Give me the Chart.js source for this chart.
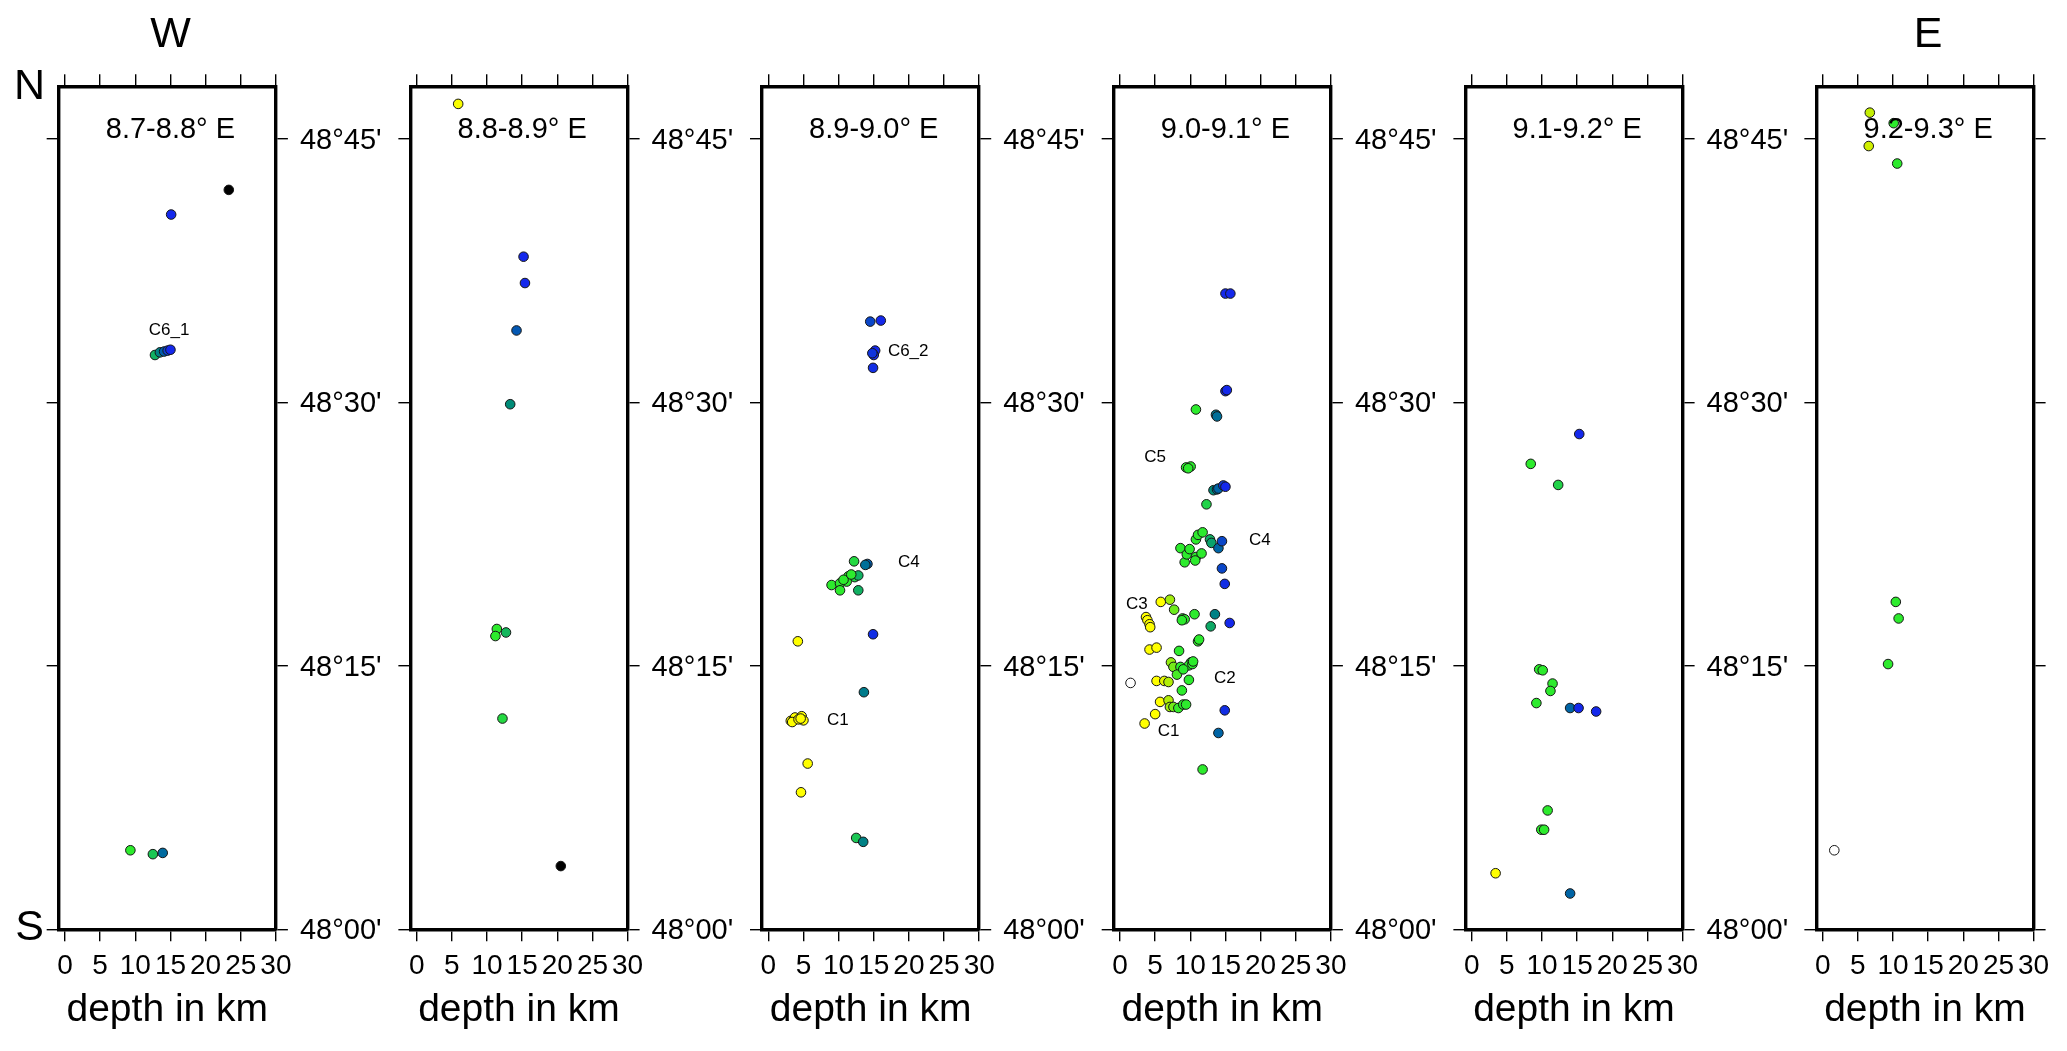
<!DOCTYPE html>
<html><head><meta charset="utf-8">
<script src="https://cdn.jsdelivr.net/npm/chart.js@4/dist/chart.umd.min.js"></script>
<style>
html,body{margin:0;padding:0;background:#fff;}
#wrap{position:relative;width:2067px;height:1051px;overflow:hidden;background:#fff;}
#wrap canvas{position:absolute;left:0;top:0;}
</style></head><body><div id="wrap"></div>
<script>
// ---------------- DATA ----------------
const panelTitles = ["8.7-8.8° E", "8.8-8.9° E", "8.9-9.0° E", "9.0-9.1° E", "9.1-9.2° E", "9.2-9.3° E"];

const xTicks = [0, 5, 10, 15, 20, 25, 30];
const yTicks = [48.0, 48.25, 48.5, 48.75];
const yTickLabels = ["48°00'", "48°15'", "48°30'", "48°45'"];

// depth (km) and latitude (deg N) of each event, per longitude slice
const depth1 = [23.3, 15.1, 12.8, 13.5, 14.1, 14.6, 15.0, 9.3, 12.5, 13.9];
const lat1   = [48.7017, 48.6783, 48.5450, 48.5475, 48.5483, 48.5492, 48.5500, 48.0750, 48.0713, 48.0725];

const depth2 = [5.9, 15.2, 15.4, 14.2, 13.3, 11.4, 11.2, 12.7, 12.2, 20.5];
const lat2   = [48.7833, 48.6383, 48.6133, 48.5683, 48.4983, 48.2850, 48.2783, 48.2817, 48.2000, 48.0600];

const depth3 = [14.5, 16.0, 15.2, 15.0, 14.8, 14.9, 12.2, 14.1, 13.8, 9.0, 10.2, 10.2, 11.4, 12.3, 12.8, 12.8, 11.15, 10.7, 11.8,
                4.2, 14.9, 13.6, 3.2, 3.6, 3.8, 4.75, 5.0, 3.4, 4.3, 4.6, 5.6, 4.65, 12.5, 13.5];
const lat3   = [48.5767, 48.5777, 48.5492, 48.5450, 48.5467, 48.5328, 48.3492, 48.3467, 48.3458, 48.3267, 48.3283, 48.3217, 48.3350,
                48.3342, 48.3358, 48.3217, 48.3300, 48.3317, 48.3367, 48.2733, 48.2800, 48.2250, 48.1978, 48.1983, 48.2010,
                48.2022, 48.1983, 48.1967, 48.1992, 48.2000, 48.1573, 48.1300, 48.0867, 48.0830];

const depth4 = [15.0, 15.7, 15.0, 15.2, 10.8, 13.65, 13.8, 9.4, 10.05, 9.7, 13.3, 13.8, 14.0, 14.7, 15.0, 12.3,
                8.6, 9.2, 9.5, 9.9, 10.8, 11.6, 10.8, 11.1, 11.75, 12.8, 13.0, 14.0, 14.5, 10.7, 14.5, 14.9,
                5.8, 7.1, 7.7, 8.9, 9.2, 8.8, 10.6, 13.5, 12.9, 15.6, 3.7, 3.9, 4.2, 4.3, 4.2, 5.2, 11.1, 11.25, 8.4,
                10.1, 9.8, 10.3, 10.4, 7.25, 7.6, 8.6, 8.1, 9.0, 9.8, 5.2, 6.3, 6.9, 1.5, 8.8,
                5.7, 6.9, 7.1, 7.6, 8.3, 9.0, 9.4, 14.9, 5.0, 3.5, 14.0, 11.75];
const lat4   = [48.6033, 48.6033, 48.5107, 48.5117, 48.4933, 48.4883, 48.4867, 48.4383, 48.4392, 48.4375, 48.4167, 48.4175,
                48.4183, 48.4212, 48.4200, 48.4033,
                48.3617, 48.3483, 48.3558, 48.3608, 48.3533, 48.3567, 48.3700, 48.3743, 48.3767, 48.3700, 48.3667, 48.3617,
                48.3683, 48.3500, 48.3425, 48.3278,
                48.3107, 48.3128, 48.3033, 48.2950, 48.2942, 48.2933, 48.2990, 48.2990, 48.2875, 48.2907, 48.2963, 48.2933,
                48.2895, 48.2867, 48.2655, 48.2673, 48.2733, 48.2750, 48.2642,
                48.2533, 48.2505, 48.2517, 48.2542, 48.2533, 48.2490, 48.2490, 48.2417, 48.2467, 48.2367, 48.2357, 48.2357,
                48.2347, 48.2338, 48.2267,
                48.2158, 48.2173, 48.2110, 48.2110, 48.2100, 48.2133, 48.2133, 48.2078, 48.2042, 48.1953, 48.1863, 48.1517];

const depth5 = [15.3, 8.4, 12.3, 9.6, 10.1, 11.5, 11.2, 9.2, 14.0, 15.2, 17.7, 10.8, 9.9, 10.3, 3.4, 14.0];
const lat5   = [48.4700, 48.4417, 48.4217, 48.2467, 48.2458, 48.2332, 48.2262, 48.2147, 48.2100, 48.2100, 48.2067,
                48.1128, 48.0945, 48.0945, 48.0532, 48.0340];

const depth6 = [6.7, 10.1, 6.55, 10.6, 10.4, 10.8, 9.3, 1.65];
const lat6   = [48.7750, 48.7650, 48.7433, 48.7267, 48.3107, 48.2950, 48.2517, 48.0750];

// cluster annotations (depth km, latitude deg)
const clusterLabels1 = [{text: "C6_1", depth: 14.8, lat: 48.5683}];
const clusterLabels2 = [];
const clusterLabels3 = [{text: "C6_2", depth: 19.9, lat: 48.5483}, {text: "C4", depth: 20.0, lat: 48.3483},
                        {text: "C1", depth: 9.9, lat: 48.1983}];
const clusterLabels4 = [{text: "C5", depth: 5.0, lat: 48.4483}, {text: "C4", depth: 19.9, lat: 48.3692},
                        {text: "C3", depth: 2.4, lat: 48.3083}, {text: "C2", depth: 14.9, lat: 48.2383},
                        {text: "C1", depth: 6.9, lat: 48.1883}];
const clusterLabels5 = [];
const clusterLabels6 = [];

// ---------------- STYLE / LAYOUT ----------------
const FONT = "'Liberation Sans', Arial, Helvetica, sans-serif";
const W = 2067, H = 1051;
const ZERO = [65, 416.7, 768.3, 1120, 1471.7, 1822.7];   // pixel of depth 0 in each panel
const PXKM = 7.03;
const XMIN = -0.9, XMAX = 30, YMIN = 48.0, YMAX = 48.8;
const AREA_TOP = 86.3, AREA_BOTTOM = 929.3;
const LEFT_W = 16, TOP_H = 16, BOTTOM_H = 104.6;

// depth colour palette (cpt-like)
const cptDepth = [5.8, 6.6, 8.4, 11.9, 12.4, 13.3, 14.0, 15.0];
const cptRGB = [[255,255,0],[205,238,0],[45,235,45],[45,235,45],[30,205,80],[0,140,120],[0,100,165],[20,40,235]];
function depthColor(d) {
  if (d < 2) return '#ffffff';
  if (d >= 20) return '#000000';
  if (d <= cptDepth[0]) return 'rgb(255,255,0)';
  for (let i = 1; i < cptDepth.length; i++) {
    if (d <= cptDepth[i]) {
      const t = (d - cptDepth[i-1]) / (cptDepth[i] - cptDepth[i-1]);
      const a = cptRGB[i-1], b = cptRGB[i];
      return 'rgb(' + a.map((v, k) => Math.round(v + (b[k] - v) * t)).join(',') + ')';
    }
  }
  const c = cptRGB[cptRGB.length - 1];
  return 'rgb(' + c.join(',') + ')';
}

const depths = [depth1, depth2, depth3, depth4, depth5, depth6];
const lats = [lat1, lat2, lat3, lat4, lat5, lat6];
const clusterLabels = [clusterLabels1, clusterLabels2, clusterLabels3, clusterLabels4, clusterLabels5, clusterLabels6];

const annotPlugin = {
  id: 'annot',
  afterDatasetsDraw(chart, args, o) {
    const ctx = chart.ctx, xs = chart.scales.x, ys = chart.scales.y, ca = chart.chartArea;
    ctx.save();
    ctx.fillStyle = '#000';
    ctx.textAlign = 'center';
    ctx.textBaseline = 'middle';
    ctx.font = '29px ' + FONT;
    ctx.fillText(o.title, xs.getPixelForValue(15), ys.getPixelForValue(48.7584));
    ctx.font = '17px ' + FONT;
    for (const l of o.labels) ctx.fillText(l.text, xs.getPixelForValue(l.depth), ys.getPixelForValue(l.lat));
    ctx.font = '43px ' + FONT;
    for (const c of o.compass) {
      if (c.where === 'above') ctx.fillText(c.text, xs.getPixelForValue(15), ca.top - 51.6);
      else if (c.where === 'topLeft') ctx.fillText(c.text, ca.left - 29.1, ca.top + 0.5);
      else if (c.where === 'bottomLeft') ctx.fillText(c.text, ca.left - 29.1, ca.bottom - 0.8);
    }
    ctx.restore();
  }
};

Chart.defaults.font.family = FONT;
Chart.defaults.color = '#000';

const wrap = document.getElementById('wrap');
const gridOpts = {drawOnChartArea: false, drawTicks: true, tickLength: 12, lineWidth: 1.4, color: '#000'};
const borderOpts = {display: true, width: 3.4, color: '#000'};
const setXTicks = s => { s.ticks = xTicks.map(v => ({value: v})); };
const setYTicks = s => { s.ticks = yTicks.map(v => ({value: v})); };

for (let k = 0; k < 6; k++) {
  const cv = document.createElement('canvas');
  cv.width = W; cv.height = H;
  cv.style.width = W + 'px'; cv.style.height = H + 'px';
  wrap.appendChild(cv);
  const showYLabels = k < 5;
  const RIGHT_W = showYLabels ? 130 : 20;
  const chartLeft = ZERO[k] + XMIN * PXKM;
  const chartRight = ZERO[k] + XMAX * PXKM;
  const compass = [];
  if (k === 0) compass.push({text: 'W', where: 'above'}, {text: 'N', where: 'topLeft'}, {text: 'S', where: 'bottomLeft'});
  if (k === 5) compass.push({text: 'E', where: 'above'});
  const dep = depths[k], lat = lats[k];
  new Chart(cv, {
    type: 'scatter',
    data: {
      datasets: [{
        xAxisID: 'x', yAxisID: 'y',
        data: dep.map((d, i) => ({x: d, y: lat[i]})),
        pointBackgroundColor: dep.map(depthColor),
        pointBorderColor: '#151515',
        pointBorderWidth: 1,
        pointRadius: 4.8,
        pointHoverRadius: 4.8,
        showLine: false
      }]
    },
    options: {
      responsive: false,
      animation: false,
      events: [],
      layout: {
        autoPadding: false,
        padding: {
          left: chartLeft - LEFT_W,
          right: W - chartRight - RIGHT_W,
          top: AREA_TOP - TOP_H,
          bottom: H - AREA_BOTTOM - BOTTOM_H
        }
      },
      plugins: {
        legend: {display: false},
        tooltip: {enabled: false},
        annot: {title: panelTitles[k], labels: clusterLabels[k], compass: compass}
      },
      scales: {
        x: {
          type: 'linear', position: 'bottom', min: XMIN, max: XMAX,
          afterBuildTicks: setXTicks,
          afterFit: s => { s.height = BOTTOM_H; },
          ticks: {autoSkip: false, maxRotation: 0, minRotation: 0, padding: 8.5, color: '#000',
                  font: {family: FONT, size: 28}, callback: v => String(v)},
          grid: gridOpts, border: borderOpts,
          title: {display: true, text: 'depth in km', color: '#000',
                  font: {family: FONT, size: 39, lineHeight: 1.2}, padding: {top: 0, bottom: 0}}
        },
        xt: {
          type: 'linear', position: 'top', min: XMIN, max: XMAX,
          afterBuildTicks: setXTicks,
          afterFit: s => { s.height = TOP_H; },
          ticks: {display: false},
          grid: gridOpts, border: borderOpts
        },
        yl: {
          type: 'linear', position: 'left', min: YMIN, max: YMAX,
          afterBuildTicks: setYTicks,
          afterFit: s => { s.width = LEFT_W; },
          ticks: {display: false},
          grid: gridOpts, border: borderOpts
        },
        y: {
          type: 'linear', position: 'right', min: YMIN, max: YMAX,
          afterBuildTicks: setYTicks,
          afterFit: s => { s.width = RIGHT_W; },
          ticks: {display: showYLabels, autoSkip: false, padding: 12, labelOffset: 2, color: '#000',
                  font: {family: FONT, size: 29}, callback: (v, i) => yTickLabels[i]},
          grid: gridOpts, border: borderOpts
        }
      }
    },
    plugins: [annotPlugin]
  });
}
</script>
</body></html>
